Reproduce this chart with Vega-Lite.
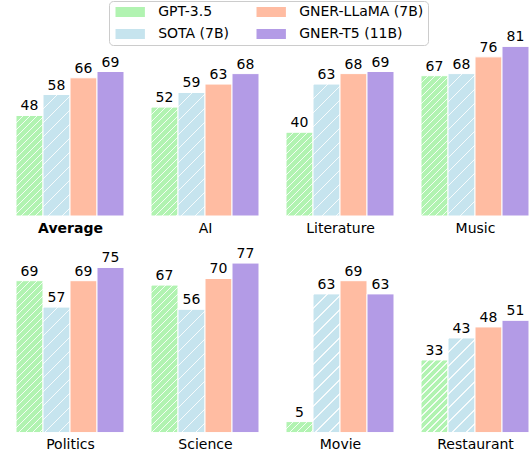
{
"$schema":"https://vega.github.io/schema/vega-lite/v6.json",
"padding":{"left":15,"top":0,"right":0,"bottom":0},
"params":[
{"name":"gs","value":[
{"offset":0,"color":"rgba(255,255,255,0.85)"},{"offset":0.0061,"color":"rgba(255,255,255,0.85)"},{"offset":0.0061,"color":"rgba(255,255,255,0)"},{"offset":0.0357,"color":"rgba(255,255,255,0)"},
{"offset":0.0357,"color":"rgba(255,255,255,0.85)"},{"offset":0.0418,"color":"rgba(255,255,255,0.85)"},{"offset":0.0418,"color":"rgba(255,255,255,0)"},{"offset":0.0714,"color":"rgba(255,255,255,0)"},
{"offset":0.0714,"color":"rgba(255,255,255,0.85)"},{"offset":0.0775,"color":"rgba(255,255,255,0.85)"},{"offset":0.0775,"color":"rgba(255,255,255,0)"},{"offset":0.1071,"color":"rgba(255,255,255,0)"},
{"offset":0.1071,"color":"rgba(255,255,255,0.85)"},{"offset":0.1132,"color":"rgba(255,255,255,0.85)"},{"offset":0.1132,"color":"rgba(255,255,255,0)"},{"offset":0.1429,"color":"rgba(255,255,255,0)"},
{"offset":0.1429,"color":"rgba(255,255,255,0.85)"},{"offset":0.1490,"color":"rgba(255,255,255,0.85)"},{"offset":0.1490,"color":"rgba(255,255,255,0)"},{"offset":0.1786,"color":"rgba(255,255,255,0)"},
{"offset":0.1786,"color":"rgba(255,255,255,0.85)"},{"offset":0.1847,"color":"rgba(255,255,255,0.85)"},{"offset":0.1847,"color":"rgba(255,255,255,0)"},{"offset":0.2143,"color":"rgba(255,255,255,0)"},
{"offset":0.2143,"color":"rgba(255,255,255,0.85)"},{"offset":0.2204,"color":"rgba(255,255,255,0.85)"},{"offset":0.2204,"color":"rgba(255,255,255,0)"},{"offset":0.25,"color":"rgba(255,255,255,0)"},
{"offset":0.25,"color":"rgba(255,255,255,0.85)"},{"offset":0.2561,"color":"rgba(255,255,255,0.85)"},{"offset":0.2561,"color":"rgba(255,255,255,0)"},{"offset":0.2857,"color":"rgba(255,255,255,0)"},
{"offset":0.2857,"color":"rgba(255,255,255,0.85)"},{"offset":0.2918,"color":"rgba(255,255,255,0.85)"},{"offset":0.2918,"color":"rgba(255,255,255,0)"},{"offset":0.3214,"color":"rgba(255,255,255,0)"},
{"offset":0.3214,"color":"rgba(255,255,255,0.85)"},{"offset":0.3275,"color":"rgba(255,255,255,0.85)"},{"offset":0.3275,"color":"rgba(255,255,255,0)"},{"offset":0.3571,"color":"rgba(255,255,255,0)"},
{"offset":0.3571,"color":"rgba(255,255,255,0.85)"},{"offset":0.3632,"color":"rgba(255,255,255,0.85)"},{"offset":0.3632,"color":"rgba(255,255,255,0)"},{"offset":0.3929,"color":"rgba(255,255,255,0)"},
{"offset":0.3929,"color":"rgba(255,255,255,0.85)"},{"offset":0.3990,"color":"rgba(255,255,255,0.85)"},{"offset":0.3990,"color":"rgba(255,255,255,0)"},{"offset":0.4286,"color":"rgba(255,255,255,0)"},
{"offset":0.4286,"color":"rgba(255,255,255,0.85)"},{"offset":0.4347,"color":"rgba(255,255,255,0.85)"},{"offset":0.4347,"color":"rgba(255,255,255,0)"},{"offset":0.4643,"color":"rgba(255,255,255,0)"},
{"offset":0.4643,"color":"rgba(255,255,255,0.85)"},{"offset":0.4704,"color":"rgba(255,255,255,0.85)"},{"offset":0.4704,"color":"rgba(255,255,255,0)"},{"offset":0.5,"color":"rgba(255,255,255,0)"},
{"offset":0.5,"color":"rgba(255,255,255,0.85)"},{"offset":0.5061,"color":"rgba(255,255,255,0.85)"},{"offset":0.5061,"color":"rgba(255,255,255,0)"},{"offset":0.5357,"color":"rgba(255,255,255,0)"},
{"offset":0.5357,"color":"rgba(255,255,255,0.85)"},{"offset":0.5418,"color":"rgba(255,255,255,0.85)"},{"offset":0.5418,"color":"rgba(255,255,255,0)"},{"offset":0.5714,"color":"rgba(255,255,255,0)"},
{"offset":0.5714,"color":"rgba(255,255,255,0.85)"},{"offset":0.5775,"color":"rgba(255,255,255,0.85)"},{"offset":0.5775,"color":"rgba(255,255,255,0)"},{"offset":0.6071,"color":"rgba(255,255,255,0)"},
{"offset":0.6071,"color":"rgba(255,255,255,0.85)"},{"offset":0.6132,"color":"rgba(255,255,255,0.85)"},{"offset":0.6132,"color":"rgba(255,255,255,0)"},{"offset":0.6429,"color":"rgba(255,255,255,0)"},
{"offset":0.6429,"color":"rgba(255,255,255,0.85)"},{"offset":0.6490,"color":"rgba(255,255,255,0.85)"},{"offset":0.6490,"color":"rgba(255,255,255,0)"},{"offset":0.6786,"color":"rgba(255,255,255,0)"},
{"offset":0.6786,"color":"rgba(255,255,255,0.85)"},{"offset":0.6847,"color":"rgba(255,255,255,0.85)"},{"offset":0.6847,"color":"rgba(255,255,255,0)"},{"offset":0.7143,"color":"rgba(255,255,255,0)"},
{"offset":0.7143,"color":"rgba(255,255,255,0.85)"},{"offset":0.7204,"color":"rgba(255,255,255,0.85)"},{"offset":0.7204,"color":"rgba(255,255,255,0)"},{"offset":0.75,"color":"rgba(255,255,255,0)"},
{"offset":0.75,"color":"rgba(255,255,255,0.85)"},{"offset":0.7561,"color":"rgba(255,255,255,0.85)"},{"offset":0.7561,"color":"rgba(255,255,255,0)"},{"offset":0.7857,"color":"rgba(255,255,255,0)"},
{"offset":0.7857,"color":"rgba(255,255,255,0.85)"},{"offset":0.7918,"color":"rgba(255,255,255,0.85)"},{"offset":0.7918,"color":"rgba(255,255,255,0)"},{"offset":0.8214,"color":"rgba(255,255,255,0)"},
{"offset":0.8214,"color":"rgba(255,255,255,0.85)"},{"offset":0.8275,"color":"rgba(255,255,255,0.85)"},{"offset":0.8275,"color":"rgba(255,255,255,0)"},{"offset":0.8571,"color":"rgba(255,255,255,0)"},
{"offset":0.8571,"color":"rgba(255,255,255,0.85)"},{"offset":0.8632,"color":"rgba(255,255,255,0.85)"},{"offset":0.8632,"color":"rgba(255,255,255,0)"},{"offset":0.8929,"color":"rgba(255,255,255,0)"},
{"offset":0.8929,"color":"rgba(255,255,255,0.85)"},{"offset":0.8990,"color":"rgba(255,255,255,0.85)"},{"offset":0.8990,"color":"rgba(255,255,255,0)"},{"offset":0.9286,"color":"rgba(255,255,255,0)"},
{"offset":0.9286,"color":"rgba(255,255,255,0.85)"},{"offset":0.9347,"color":"rgba(255,255,255,0.85)"},{"offset":0.9347,"color":"rgba(255,255,255,0)"},{"offset":0.9643,"color":"rgba(255,255,255,0)"},
{"offset":0.9643,"color":"rgba(255,255,255,0.85)"},{"offset":0.9704,"color":"rgba(255,255,255,0.85)"},{"offset":0.9704,"color":"rgba(255,255,255,0)"},{"offset":1,"color":"rgba(255,255,255,0)"}
]},
{"name":"bs","value":[
{"offset":0,"color":"rgba(255,255,255,0.85)"},{"offset":0.0061,"color":"rgba(255,255,255,0.85)"},{"offset":0.0061,"color":"rgba(255,255,255,0)"},{"offset":0.0714,"color":"rgba(255,255,255,0)"},
{"offset":0.0714,"color":"rgba(255,255,255,0.85)"},{"offset":0.0775,"color":"rgba(255,255,255,0.85)"},{"offset":0.0775,"color":"rgba(255,255,255,0)"},{"offset":0.1429,"color":"rgba(255,255,255,0)"},
{"offset":0.1429,"color":"rgba(255,255,255,0.85)"},{"offset":0.1490,"color":"rgba(255,255,255,0.85)"},{"offset":0.1490,"color":"rgba(255,255,255,0)"},{"offset":0.2143,"color":"rgba(255,255,255,0)"},
{"offset":0.2143,"color":"rgba(255,255,255,0.85)"},{"offset":0.2204,"color":"rgba(255,255,255,0.85)"},{"offset":0.2204,"color":"rgba(255,255,255,0)"},{"offset":0.2857,"color":"rgba(255,255,255,0)"},
{"offset":0.2857,"color":"rgba(255,255,255,0.85)"},{"offset":0.2918,"color":"rgba(255,255,255,0.85)"},{"offset":0.2918,"color":"rgba(255,255,255,0)"},{"offset":0.3571,"color":"rgba(255,255,255,0)"},
{"offset":0.3571,"color":"rgba(255,255,255,0.85)"},{"offset":0.3632,"color":"rgba(255,255,255,0.85)"},{"offset":0.3632,"color":"rgba(255,255,255,0)"},{"offset":0.4286,"color":"rgba(255,255,255,0)"},
{"offset":0.4286,"color":"rgba(255,255,255,0.85)"},{"offset":0.4347,"color":"rgba(255,255,255,0.85)"},{"offset":0.4347,"color":"rgba(255,255,255,0)"},{"offset":0.5,"color":"rgba(255,255,255,0)"},
{"offset":0.5,"color":"rgba(255,255,255,0.85)"},{"offset":0.5061,"color":"rgba(255,255,255,0.85)"},{"offset":0.5061,"color":"rgba(255,255,255,0)"},{"offset":0.5714,"color":"rgba(255,255,255,0)"},
{"offset":0.5714,"color":"rgba(255,255,255,0.85)"},{"offset":0.5775,"color":"rgba(255,255,255,0.85)"},{"offset":0.5775,"color":"rgba(255,255,255,0)"},{"offset":0.6429,"color":"rgba(255,255,255,0)"},
{"offset":0.6429,"color":"rgba(255,255,255,0.85)"},{"offset":0.6490,"color":"rgba(255,255,255,0.85)"},{"offset":0.6490,"color":"rgba(255,255,255,0)"},{"offset":0.7143,"color":"rgba(255,255,255,0)"},
{"offset":0.7143,"color":"rgba(255,255,255,0.85)"},{"offset":0.7204,"color":"rgba(255,255,255,0.85)"},{"offset":0.7204,"color":"rgba(255,255,255,0)"},{"offset":0.7857,"color":"rgba(255,255,255,0)"},
{"offset":0.7857,"color":"rgba(255,255,255,0.85)"},{"offset":0.7918,"color":"rgba(255,255,255,0.85)"},{"offset":0.7918,"color":"rgba(255,255,255,0)"},{"offset":0.8571,"color":"rgba(255,255,255,0)"},
{"offset":0.8571,"color":"rgba(255,255,255,0.85)"},{"offset":0.8632,"color":"rgba(255,255,255,0.85)"},{"offset":0.8632,"color":"rgba(255,255,255,0)"},{"offset":0.9286,"color":"rgba(255,255,255,0)"},
{"offset":0.9286,"color":"rgba(255,255,255,0.85)"},{"offset":0.9347,"color":"rgba(255,255,255,0.85)"},{"offset":0.9347,"color":"rgba(255,255,255,0)"},{"offset":1,"color":"rgba(255,255,255,0)"}
]}
],
"data":{"values":[
{"cat":"Average","model":"GPT-3.5","value":48},{"cat":"Average","model":"SOTA (7B)","value":58},{"cat":"Average","model":"GNER-LLaMA (7B)","value":66},{"cat":"Average","model":"GNER-T5 (11B)","value":69},
{"cat":"AI","model":"GPT-3.5","value":52},{"cat":"AI","model":"SOTA (7B)","value":59},{"cat":"AI","model":"GNER-LLaMA (7B)","value":63},{"cat":"AI","model":"GNER-T5 (11B)","value":68},
{"cat":"Literature","model":"GPT-3.5","value":40},{"cat":"Literature","model":"SOTA (7B)","value":63},{"cat":"Literature","model":"GNER-LLaMA (7B)","value":68},{"cat":"Literature","model":"GNER-T5 (11B)","value":69},
{"cat":"Music","model":"GPT-3.5","value":67},{"cat":"Music","model":"SOTA (7B)","value":68},{"cat":"Music","model":"GNER-LLaMA (7B)","value":76},{"cat":"Music","model":"GNER-T5 (11B)","value":81},
{"cat":"Politics","model":"GPT-3.5","value":69},{"cat":"Politics","model":"SOTA (7B)","value":57},{"cat":"Politics","model":"GNER-LLaMA (7B)","value":69},{"cat":"Politics","model":"GNER-T5 (11B)","value":75},
{"cat":"Science","model":"GPT-3.5","value":67},{"cat":"Science","model":"SOTA (7B)","value":56},{"cat":"Science","model":"GNER-LLaMA (7B)","value":70},{"cat":"Science","model":"GNER-T5 (11B)","value":77},
{"cat":"Movie","model":"GPT-3.5","value":5},{"cat":"Movie","model":"SOTA (7B)","value":63},{"cat":"Movie","model":"GNER-LLaMA (7B)","value":69},{"cat":"Movie","model":"GNER-T5 (11B)","value":63},
{"cat":"Restaurant","model":"GPT-3.5","value":33},{"cat":"Restaurant","model":"SOTA (7B)","value":43},{"cat":"Restaurant","model":"GNER-LLaMA (7B)","value":48},{"cat":"Restaurant","model":"GNER-T5 (11B)","value":51}
]},
"columns":4,
"spacing":{"row":38.6,"column":27},
"bounds":"flush",
"concat":[
{"width":108,"height":178,"transform":[{"filter":"datum.cat==='Average'"}],
"encoding":{"x":{"field":"model","type":"nominal","sort":["GPT-3.5","SOTA (7B)","GNER-LLaMA (7B)","GNER-T5 (11B)"],"scale":{"paddingInner":0,"paddingOuter":0},"axis":{"title":"Average","labels":false,"ticks":false,"domain":false,"titleFontWeight":"bold"}},"y":{"field":"value","type":"quantitative","scale":{"domain":[0,85]},"axis":null}},
"layer":[
{"mark":{"type":"bar","stroke":"white","strokeWidth":1},"encoding":{"color":{"field":"model","type":"nominal","title":null,"scale":{"domain":["GPT-3.5","SOTA (7B)","GNER-LLaMA (7B)","GNER-T5 (11B)"],"range":["#b1f3b1","#c6e4ee","#ffbca2","#b39be6"]},"legend":{"encode":{"symbols":{"fill":{"value":{"expr":"datum.value==='GPT-3.5' ? {gradient:'linear',x1:0,y1:0,x2:1.2,y2:0.4,stops:[{offset:0,color:'#b1f3b1'},{offset:0.075,color:'#b1f3b1'},{offset:0.075,color:'#f2fcf2'},{offset:0.105,color:'#f2fcf2'},{offset:0.105,color:'#b1f3b1'},{offset:0.25,color:'#b1f3b1'},{offset:0.25,color:'#f2fcf2'},{offset:0.28,color:'#f2fcf2'},{offset:0.28,color:'#b1f3b1'},{offset:0.425,color:'#b1f3b1'},{offset:0.425,color:'#f2fcf2'},{offset:0.455,color:'#f2fcf2'},{offset:0.455,color:'#b1f3b1'},{offset:0.6,color:'#b1f3b1'},{offset:0.6,color:'#f2fcf2'},{offset:0.63,color:'#f2fcf2'},{offset:0.63,color:'#b1f3b1'},{offset:0.775,color:'#b1f3b1'},{offset:0.775,color:'#f2fcf2'},{offset:0.805,color:'#f2fcf2'},{offset:0.805,color:'#b1f3b1'},{offset:1,color:'#b1f3b1'}]} : datum.value==='SOTA (7B)' ? {gradient:'linear',x1:0,y1:0,x2:1.2,y2:0.4,stops:[{offset:0,color:'#c6e4ee'},{offset:0.15,color:'#c6e4ee'},{offset:0.15,color:'#f3f9fb'},{offset:0.18,color:'#f3f9fb'},{offset:0.18,color:'#c6e4ee'},{offset:0.5,color:'#c6e4ee'},{offset:0.5,color:'#f3f9fb'},{offset:0.53,color:'#f3f9fb'},{offset:0.53,color:'#c6e4ee'},{offset:0.85,color:'#c6e4ee'},{offset:0.85,color:'#f3f9fb'},{offset:0.88,color:'#f3f9fb'},{offset:0.88,color:'#c6e4ee'},{offset:1,color:'#c6e4ee'}]} : datum.value==='GNER-LLaMA (7B)' ? '#ffbca2' : '#b39be6'"}}}}}}}},
{"mark":{"type":"bar","fill":{"expr":"(datum.model==='GPT-3.5'||datum.model==='SOTA (7B)') ? {gradient:'linear',x1:0,y1:0,x2:196*27/(729+pow(datum.value*2.0941,2)),y2:196*datum.value*2.0941/(729+pow(datum.value*2.0941,2)),stops:(datum.model==='GPT-3.5'?gs:bs)} : 'transparent'"}}},
{"mark":{"type":"text","baseline":"alphabetic","dy":-5,"fontSize":14},"encoding":{"text":{"field":"value","type":"quantitative"}}}
]},
{"width":108,"height":178,"transform":[{"filter":"datum.cat==='AI'"}],
"encoding":{"x":{"field":"model","type":"nominal","sort":["GPT-3.5","SOTA (7B)","GNER-LLaMA (7B)","GNER-T5 (11B)"],"scale":{"paddingInner":0,"paddingOuter":0},"axis":{"title":"AI","labels":false,"ticks":false,"domain":false}},"y":{"field":"value","type":"quantitative","scale":{"domain":[0,85]},"axis":null}},
"layer":[
{"mark":{"type":"bar","stroke":"white","strokeWidth":1},"encoding":{"color":{"field":"model","type":"nominal","title":null,"scale":{"domain":["GPT-3.5","SOTA (7B)","GNER-LLaMA (7B)","GNER-T5 (11B)"],"range":["#b1f3b1","#c6e4ee","#ffbca2","#b39be6"]}}}},
{"mark":{"type":"bar","fill":{"expr":"(datum.model==='GPT-3.5'||datum.model==='SOTA (7B)') ? {gradient:'linear',x1:0,y1:0,x2:196*27/(729+pow(datum.value*2.0941,2)),y2:196*datum.value*2.0941/(729+pow(datum.value*2.0941,2)),stops:(datum.model==='GPT-3.5'?gs:bs)} : 'transparent'"}}},
{"mark":{"type":"text","baseline":"alphabetic","dy":-5,"fontSize":14},"encoding":{"text":{"field":"value","type":"quantitative"}}}
]},
{"width":108,"height":178,"transform":[{"filter":"datum.cat==='Literature'"}],
"encoding":{"x":{"field":"model","type":"nominal","sort":["GPT-3.5","SOTA (7B)","GNER-LLaMA (7B)","GNER-T5 (11B)"],"scale":{"paddingInner":0,"paddingOuter":0},"axis":{"title":"Literature","labels":false,"ticks":false,"domain":false}},"y":{"field":"value","type":"quantitative","scale":{"domain":[0,85]},"axis":null}},
"layer":[
{"mark":{"type":"bar","stroke":"white","strokeWidth":1},"encoding":{"color":{"field":"model","type":"nominal","title":null,"scale":{"domain":["GPT-3.5","SOTA (7B)","GNER-LLaMA (7B)","GNER-T5 (11B)"],"range":["#b1f3b1","#c6e4ee","#ffbca2","#b39be6"]}}}},
{"mark":{"type":"bar","fill":{"expr":"(datum.model==='GPT-3.5'||datum.model==='SOTA (7B)') ? {gradient:'linear',x1:0,y1:0,x2:196*27/(729+pow(datum.value*2.0941,2)),y2:196*datum.value*2.0941/(729+pow(datum.value*2.0941,2)),stops:(datum.model==='GPT-3.5'?gs:bs)} : 'transparent'"}}},
{"mark":{"type":"text","baseline":"alphabetic","dy":-5,"fontSize":14},"encoding":{"text":{"field":"value","type":"quantitative"}}}
]},
{"width":108,"height":178,"transform":[{"filter":"datum.cat==='Music'"}],
"encoding":{"x":{"field":"model","type":"nominal","sort":["GPT-3.5","SOTA (7B)","GNER-LLaMA (7B)","GNER-T5 (11B)"],"scale":{"paddingInner":0,"paddingOuter":0},"axis":{"title":"Music","labels":false,"ticks":false,"domain":false}},"y":{"field":"value","type":"quantitative","scale":{"domain":[0,85]},"axis":null}},
"layer":[
{"mark":{"type":"bar","stroke":"white","strokeWidth":1},"encoding":{"color":{"field":"model","type":"nominal","title":null,"scale":{"domain":["GPT-3.5","SOTA (7B)","GNER-LLaMA (7B)","GNER-T5 (11B)"],"range":["#b1f3b1","#c6e4ee","#ffbca2","#b39be6"]}}}},
{"mark":{"type":"bar","fill":{"expr":"(datum.model==='GPT-3.5'||datum.model==='SOTA (7B)') ? {gradient:'linear',x1:0,y1:0,x2:196*27/(729+pow(datum.value*2.0941,2)),y2:196*datum.value*2.0941/(729+pow(datum.value*2.0941,2)),stops:(datum.model==='GPT-3.5'?gs:bs)} : 'transparent'"}}},
{"mark":{"type":"text","baseline":"alphabetic","dy":-5,"fontSize":14},"encoding":{"text":{"field":"value","type":"quantitative"}}}
]},
{"width":108,"height":178,"transform":[{"filter":"datum.cat==='Politics'"}],
"encoding":{"x":{"field":"model","type":"nominal","sort":["GPT-3.5","SOTA (7B)","GNER-LLaMA (7B)","GNER-T5 (11B)"],"scale":{"paddingInner":0,"paddingOuter":0},"axis":{"title":"Politics","labels":false,"ticks":false,"domain":false}},"y":{"field":"value","type":"quantitative","scale":{"domain":[0,80.85]},"axis":null}},
"layer":[
{"mark":{"type":"bar","stroke":"white","strokeWidth":1},"encoding":{"color":{"field":"model","type":"nominal","title":null,"scale":{"domain":["GPT-3.5","SOTA (7B)","GNER-LLaMA (7B)","GNER-T5 (11B)"],"range":["#b1f3b1","#c6e4ee","#ffbca2","#b39be6"]}}}},
{"mark":{"type":"bar","fill":{"expr":"(datum.model==='GPT-3.5'||datum.model==='SOTA (7B)') ? {gradient:'linear',x1:0,y1:0,x2:196*27/(729+pow(datum.value*2.2016,2)),y2:196*datum.value*2.2016/(729+pow(datum.value*2.2016,2)),stops:(datum.model==='GPT-3.5'?gs:bs)} : 'transparent'"}}},
{"mark":{"type":"text","baseline":"alphabetic","dy":-5,"fontSize":14},"encoding":{"text":{"field":"value","type":"quantitative"}}}
]},
{"width":108,"height":178,"transform":[{"filter":"datum.cat==='Science'"}],
"encoding":{"x":{"field":"model","type":"nominal","sort":["GPT-3.5","SOTA (7B)","GNER-LLaMA (7B)","GNER-T5 (11B)"],"scale":{"paddingInner":0,"paddingOuter":0},"axis":{"title":"Science","labels":false,"ticks":false,"domain":false}},"y":{"field":"value","type":"quantitative","scale":{"domain":[0,80.85]},"axis":null}},
"layer":[
{"mark":{"type":"bar","stroke":"white","strokeWidth":1},"encoding":{"color":{"field":"model","type":"nominal","title":null,"scale":{"domain":["GPT-3.5","SOTA (7B)","GNER-LLaMA (7B)","GNER-T5 (11B)"],"range":["#b1f3b1","#c6e4ee","#ffbca2","#b39be6"]}}}},
{"mark":{"type":"bar","fill":{"expr":"(datum.model==='GPT-3.5'||datum.model==='SOTA (7B)') ? {gradient:'linear',x1:0,y1:0,x2:196*27/(729+pow(datum.value*2.2016,2)),y2:196*datum.value*2.2016/(729+pow(datum.value*2.2016,2)),stops:(datum.model==='GPT-3.5'?gs:bs)} : 'transparent'"}}},
{"mark":{"type":"text","baseline":"alphabetic","dy":-5,"fontSize":14},"encoding":{"text":{"field":"value","type":"quantitative"}}}
]},
{"width":108,"height":178,"transform":[{"filter":"datum.cat==='Movie'"}],
"encoding":{"x":{"field":"model","type":"nominal","sort":["GPT-3.5","SOTA (7B)","GNER-LLaMA (7B)","GNER-T5 (11B)"],"scale":{"paddingInner":0,"paddingOuter":0},"axis":{"title":"Movie","labels":false,"ticks":false,"domain":false}},"y":{"field":"value","type":"quantitative","scale":{"domain":[0,80.85]},"axis":null}},
"layer":[
{"mark":{"type":"bar","stroke":"white","strokeWidth":1},"encoding":{"color":{"field":"model","type":"nominal","title":null,"scale":{"domain":["GPT-3.5","SOTA (7B)","GNER-LLaMA (7B)","GNER-T5 (11B)"],"range":["#b1f3b1","#c6e4ee","#ffbca2","#b39be6"]}}}},
{"mark":{"type":"bar","fill":{"expr":"(datum.model==='GPT-3.5'||datum.model==='SOTA (7B)') ? {gradient:'linear',x1:0,y1:0,x2:196*27/(729+pow(datum.value*2.2016,2)),y2:196*datum.value*2.2016/(729+pow(datum.value*2.2016,2)),stops:(datum.model==='GPT-3.5'?gs:bs)} : 'transparent'"}}},
{"mark":{"type":"text","baseline":"alphabetic","dy":-5,"fontSize":14},"encoding":{"text":{"field":"value","type":"quantitative"}}}
]},
{"width":108,"height":178,"transform":[{"filter":"datum.cat==='Restaurant'"}],
"encoding":{"x":{"field":"model","type":"nominal","sort":["GPT-3.5","SOTA (7B)","GNER-LLaMA (7B)","GNER-T5 (11B)"],"scale":{"paddingInner":0,"paddingOuter":0},"axis":{"title":"Restaurant","labels":false,"ticks":false,"domain":false}},"y":{"field":"value","type":"quantitative","scale":{"domain":[0,80.85]},"axis":null}},
"layer":[
{"mark":{"type":"bar","stroke":"white","strokeWidth":1},"encoding":{"color":{"field":"model","type":"nominal","title":null,"scale":{"domain":["GPT-3.5","SOTA (7B)","GNER-LLaMA (7B)","GNER-T5 (11B)"],"range":["#b1f3b1","#c6e4ee","#ffbca2","#b39be6"]}}}},
{"mark":{"type":"bar","fill":{"expr":"(datum.model==='GPT-3.5'||datum.model==='SOTA (7B)') ? {gradient:'linear',x1:0,y1:0,x2:196*27/(729+pow(datum.value*2.2016,2)),y2:196*datum.value*2.2016/(729+pow(datum.value*2.2016,2)),stops:(datum.model==='GPT-3.5'?gs:bs)} : 'transparent'"}}},
{"mark":{"type":"text","baseline":"alphabetic","dy":-5,"fontSize":14},"encoding":{"text":{"field":"value","type":"quantitative"}}}
]}
],
"config":{
"view":{"stroke":null},
"font":"DejaVu Sans",
"text":{"font":"DejaVu Sans","color":"black"},
"axis":{"titleFont":"DejaVu Sans","titleFontSize":14,"titleFontWeight":"normal","titleColor":"black","titlePadding":5},
"legend":{"orient":"none","legendX":93,"legendY":-37,"columns":2,"symbolType":"M-2.1,-0.714H2.1V0.714H-2.1Z","symbolSize":196,"symbolOffset":10.2,"labelOffset":21,"padding":4,"rowPadding":8,"columnPadding":24,"strokeColor":"#cccccc","fillColor":"white","cornerRadius":4,"labelFont":"DejaVu Sans","labelFontSize":14,"labelColor":"black","symbolStrokeWidth":0,"symbolOpacity":1}
}
}
